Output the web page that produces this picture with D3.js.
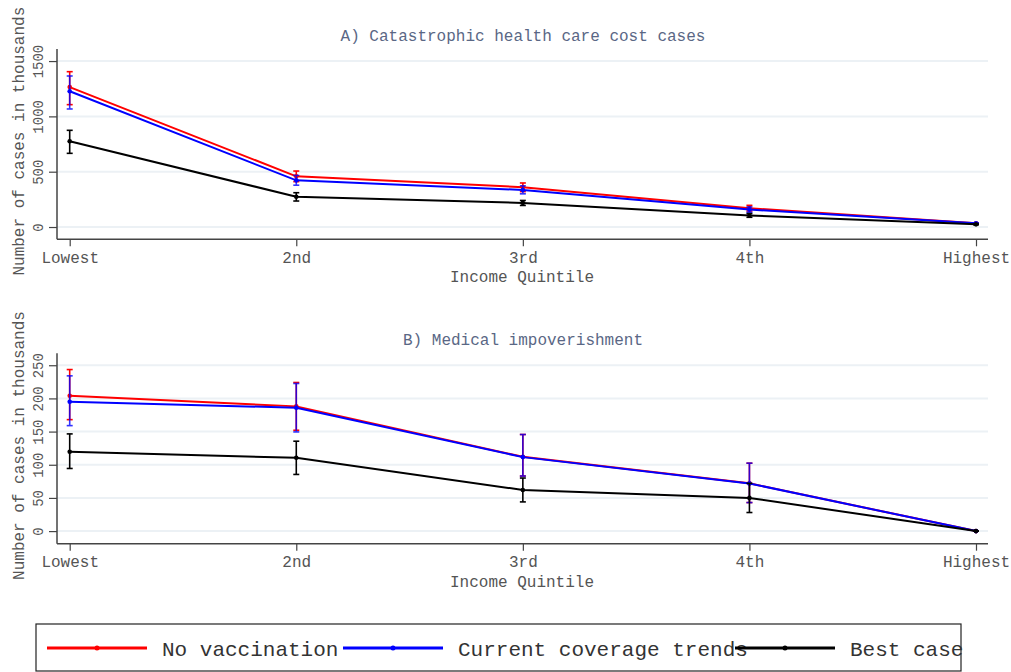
<!DOCTYPE html>
<html>
<head>
<meta charset="utf-8">
<script src="https://cdn.jsdelivr.net/npm/d3@7/dist/d3.min.js"></script>
<style>
  html, body { margin: 0; padding: 0; background: #fff; }
  svg { display: block; }
  text { font-family: "Liberation Mono", "Courier New", monospace; }
</style>
</head>
<body>
<svg id="chart" width="1011" height="672"></svg>
<script>
// Income quintiles
const quintiles = ["Lowest", "2nd", "3rd", "4th", "Highest"];

// Scenario names and colours
const scenarios = ["No vaccination", "Current coverage trends", "Best case"];
const scenarioColors = ["#ff0000", "#0000ff", "#000000"];

// A) Catastrophic health care cost cases (thousands): estimate, lower, upper
const catNoVacc      = [1265, 458, 360, 170, 33];
const catNoVaccLo    = [1106, 410, 320, 145, 28];
const catNoVaccHi    = [1404, 506, 398, 196, 38];
const catCurrent     = [1227, 422, 335, 158, 33];
const catCurrentLo   = [1067, 378, 300, 133, 28];
const catCurrentHi   = [1365, 466, 372, 182, 38];
const catBest        = [775, 274, 218, 105, 24];
const catBestLo      = [666, 235, 195, 88, 20];
const catBestHi      = [874, 310, 240, 122, 28];

// B) Medical impoverishment (thousands): estimate, lower, upper
const impNoVacc      = [204, 188, 112, 72, 0];
const impNoVaccLo    = [168, 152, 83, 43, 0];
const impNoVaccHi    = [243.5, 224, 145.6, 102.4, 0];
const impCurrent     = [195, 186, 111.5, 71.8, 0];
const impCurrentLo   = [159, 149.5, 83, 43, 0];
const impCurrentHi   = [234, 222.5, 145.6, 102.4, 0];
const impBest        = [119.5, 110.5, 62, 50, 0];
const impBestLo      = [94.4, 85.4, 44, 28, 0];
const impBestHi      = [146.5, 135.5, 80, 72, 0];

// Axis ticks
const catTicks = [0, 500, 1000, 1500];
const impTicks = [0, 50, 100, 150, 200, 250];

const svg = d3.select("#chart");
const axisColor = "#444";
const labelColor = "#555";
const gridColor = "#ecf1f5";
const titleColor = "#5a6785";

function buildSeries(est, lo, hi) {
  return quintiles.map((q, i) => ({ q, v: est[i], lo: lo[i], hi: hi[i] }));
}

function drawPanel(cfg) {
  const g = svg.append("g");
  const x = d3.scalePoint().domain(quintiles).range([69.7, 976]);
  const y = d3.scaleLinear().domain(cfg.yDomain).range([cfg.bottom, cfg.top]);
  const left = 57, right = 988;

  // horizontal gridlines
  g.selectAll(".grid").data(cfg.ticks).join("line")
    .attr("x1", left).attr("x2", right)
    .attr("y1", d => y(d)).attr("y2", d => y(d))
    .attr("stroke", gridColor).attr("stroke-width", 2);

  // y axis
  const yAxis = g.append("g").attr("transform", `translate(${left},0)`)
    .call(d3.axisLeft(y).tickValues(cfg.ticks).tickFormat(d3.format("d"))
      .tickSize(8).tickSizeOuter(0));
  yAxis.select(".domain").attr("stroke", axisColor).attr("stroke-width", 1.5)
    .attr("d", `M0,${cfg.top}V${cfg.bottom}`);
  yAxis.selectAll(".tick line").attr("stroke", axisColor).attr("stroke-width", 1.2);
  yAxis.selectAll(".tick text")
    .attr("x", null).attr("dy", null)
    .attr("transform", "translate(-15,0) rotate(-90)")
    .attr("text-anchor", "middle")
    .attr("dy", "0.1em")
    .attr("fill", labelColor)
    .style("font-size", "14px");

  // x axis
  const xAxis = g.append("g").attr("transform", `translate(0,${cfg.bottom})`)
    .call(d3.axisBottom(x).tickSize(7).tickSizeOuter(0));
  xAxis.select(".domain").attr("stroke", axisColor).attr("stroke-width", 1.5)
    .attr("d", `M${left},0H${right}`);
  xAxis.selectAll(".tick line").attr("stroke", axisColor).attr("stroke-width", 1.2);
  xAxis.selectAll(".tick text")
    .attr("y", 12).attr("dy", "0.71em")
    .attr("fill", labelColor)
    .style("font-size", "16px");

  // axis titles
  g.append("text")
    .attr("x", (left + right) / 2 - 0.5).attr("y", cfg.bottom + 43)
    .attr("text-anchor", "middle").attr("fill", labelColor)
    .style("font-size", "16px").text("Income Quintile");
  g.append("text")
    .attr("transform", `translate(24,${(cfg.top + cfg.bottom) / 2 - 3}) rotate(-90)`)
    .attr("text-anchor", "middle").attr("fill", labelColor)
    .style("font-size", "16px").text("Number of cases in thousands");

  // panel title
  g.append("text")
    .attr("x", 523).attr("y", cfg.top - 8)
    .attr("text-anchor", "middle").attr("fill", titleColor)
    .style("font-size", "16px").text(cfg.title);

  const line = d3.line().x(d => x(d.q)).y(d => y(d.v));

  cfg.series.forEach((s, si) => {
    const col = scenarioColors[si];
    const sg = g.append("g");
    const errOpacity = si === 1 ? 0.8 : 1;
    // error bars
    const eb = sg.selectAll(".err").data(s).join("g").attr("opacity", errOpacity);
    eb.append("line")
      .attr("x1", d => x(d.q)).attr("x2", d => x(d.q))
      .attr("y1", d => y(d.lo)).attr("y2", d => y(d.hi))
      .attr("stroke", col).attr("stroke-width", 1.6);
    eb.append("line")
      .attr("x1", d => x(d.q) - 3).attr("x2", d => x(d.q) + 3)
      .attr("y1", d => y(d.lo)).attr("y2", d => y(d.lo))
      .attr("stroke", col).attr("stroke-width", 1.6);
    eb.append("line")
      .attr("x1", d => x(d.q) - 3).attr("x2", d => x(d.q) + 3)
      .attr("y1", d => y(d.hi)).attr("y2", d => y(d.hi))
      .attr("stroke", col).attr("stroke-width", 1.6);
    // line
    sg.append("path").datum(s)
      .attr("d", line).attr("fill", "none")
      .attr("stroke", col).attr("stroke-width", 2);
    // markers
    sg.selectAll(".pt").data(s).join("circle")
      .attr("cx", d => x(d.q)).attr("cy", d => y(d.v))
      .attr("r", 2.3).attr("fill", col);
  });
}

drawPanel({
  title: "A) Catastrophic health care cost cases",
  top: 49, bottom: 239.3,
  yDomain: [-111, 1609],
  ticks: catTicks,
  series: [
    buildSeries(catNoVacc, catNoVaccLo, catNoVaccHi),
    buildSeries(catCurrent, catCurrentLo, catCurrentHi),
    buildSeries(catBest, catBestLo, catBestHi)
  ]
});

drawPanel({
  title: "B) Medical impoverishment",
  top: 353.3, bottom: 543.7,
  yDomain: [-19, 268],
  ticks: impTicks,
  series: [
    buildSeries(impNoVacc, impNoVaccLo, impNoVaccHi),
    buildSeries(impCurrent, impCurrentLo, impCurrentHi),
    buildSeries(impBest, impBestLo, impBestHi)
  ]
});

// legend
const legend = svg.append("g");
legend.append("rect")
  .attr("x", 36).attr("y", 624).attr("width", 925).attr("height", 47)
  .attr("fill", "none").attr("stroke", "#222").attr("stroke-width", 1.2);
const legendX = [47, 343, 735];
scenarios.forEach((name, i) => {
  const lx = legendX[i];
  legend.append("line")
    .attr("x1", lx).attr("x2", lx + 100).attr("y1", 648).attr("y2", 648)
    .attr("stroke", scenarioColors[i]).attr("stroke-width", 3);
  legend.append("circle")
    .attr("cx", lx + 50).attr("cy", 648).attr("r", 2.5)
    .attr("fill", scenarioColors[i]);
  legend.append("text")
    .attr("x", lx + 115).attr("y", 656)
    .attr("fill", "#333").style("font-size", "21px")
    .text(name);
});
</script>
</body>
</html>
